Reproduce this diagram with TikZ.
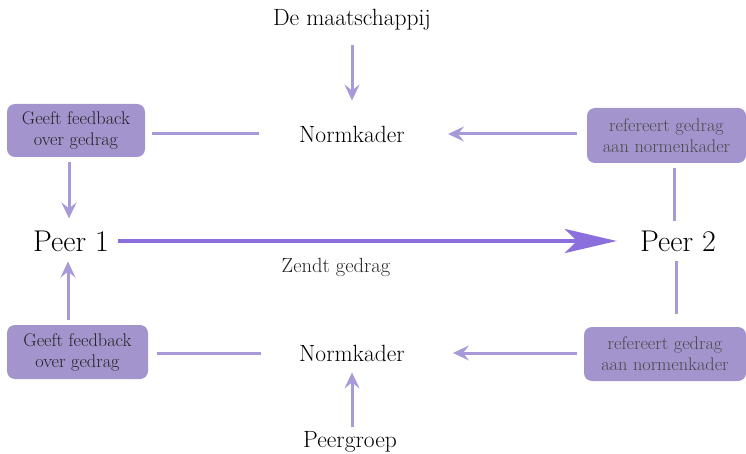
\documentclass[tikz,border=0pt]{standalone}
\usetikzlibrary{arrows.meta}
\definecolor{boxfill}{HTML}{A394CD}
\definecolor{linec}{HTML}{A899D8}
\definecolor{mainc}{HTML}{8B6FDD}
\definecolor{boxtxtL}{HTML}{222222}
\definecolor{boxtxtR}{HTML}{4A4A4A}
\begin{document}
\begin{tikzpicture}[x=1pt,y=-1pt,
  txt/.style={inner sep=0pt, font=\fontsize{23.5}{28}\selectfont, text=black},
  peer/.style={inner sep=0pt, font=\fontsize{30}{36}\selectfont, text=black},
  pbox/.style={fill=boxfill, rounded corners=8pt, inner sep=0pt, align=center,
     font=\fontsize{18.3}{21}\selectfont},
  ln/.style={draw=linec, line width=3pt},
  arr/.style={ln, -{Stealth[length=16pt, width=15pt, inset=6pt]}},
  mainarr/.style={draw=mainc, line width=4pt, -{Stealth[length=52pt, width=24pt, inset=12pt]}}
]
\useasboundingbox (0,0) rectangle (746,454);

\node[txt] (maat) at (352,20) {De maatschappij};
\node[txt] (nk1) at (352,134) {Normkader};
\node[txt] (nk2) at (352,353) {Normkader};
\node[txt] (pg) at (350,442) {Peergroep};
\node[peer] (peer1) at (71,241) {Peer 1};
\node[peer] (peer2) at (678,241) {Peer 2};
\node[inner sep=0pt, font=\fontsize{20.5}{24}\selectfont, text=boxtxtL] (zendt) at (336,267) {Zendt gedrag};

\node[pbox, text=boxtxtL, minimum width=138pt, minimum height=53pt] (b1) at (76,130.5) {Geeft feedback\\over gedrag};
\node[pbox, text=boxtxtR, minimum width=159pt, minimum height=55pt] (b2) at (666.5,135.5) {refereert gedrag\\aan normenkader};
\node[pbox, text=boxtxtL, minimum width=141pt, minimum height=54pt] (b3) at (77.5,352) {Geeft feedback\\over gedrag};
\node[pbox, text=boxtxtR, minimum width=162pt, minimum height=54pt] (b4) at (665,354) {refereert gedrag\\aan normenkader};

% top
\draw[arr, shorten <=14pt, shorten >=25pt] (maat.south) -- (nk1.north);
\draw[ln, shorten <=7pt, shorten >=40pt] (b1.east |- nk1.west) -- (nk1.west);
\draw[arr, shorten <=10pt, shorten >=43pt] (b2.west |- nk1.east) -- (nk1.east);
\draw[arr, shorten <=5pt, shorten >=12pt] ([xshift=-7pt]b1.south) -- ([xshift=-2pt]peer1.north);
\draw[ln, shorten <=5pt, shorten >=9pt] ([xshift=7.5pt]b2.south) -- ([xshift=-4pt]peer2.north);

% main
\draw[mainarr, shorten <=9pt, shorten >=23pt] (peer1.east) -- (peer2.west);

% bottom
\draw[arr, shorten <=5pt, shorten >=10pt] ([xshift=-9.5pt]b3.north) -- ([xshift=-3pt]peer1.south);
\draw[ln, shorten <=9pt, shorten >=13pt] ([xshift=-2pt]peer2.south) -- ([xshift=11pt]b4.north);
\draw[ln, shorten <=9pt, shorten >=38pt] (b3.east |- nk2.west) -- (nk2.west);
\draw[arr, shorten <=7pt, shorten >=48pt] (b4.west |- nk2.east) -- (nk2.east);
\draw[arr, shorten <=4pt, shorten >=11pt] ([xshift=2pt]pg.north) -- (nk2.south);
\end{tikzpicture}
\end{document}
